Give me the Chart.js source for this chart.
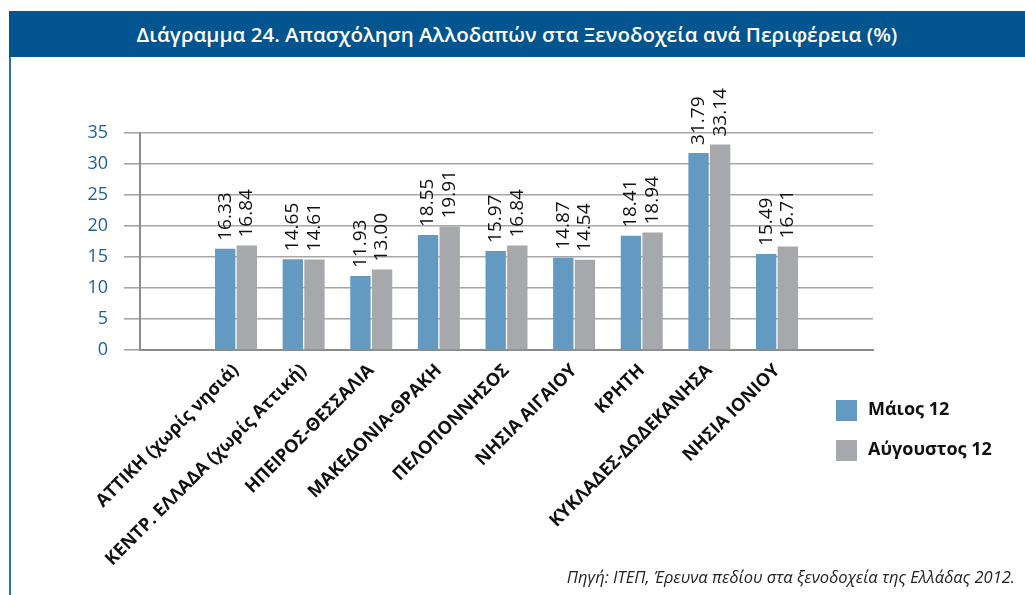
<!DOCTYPE html>
<html>
<head>
<meta charset="utf-8">
<script src="https://cdn.jsdelivr.net/npm/chart.js@4"></script>
<style>
  body { margin: 0; background: #fff; }
  #page { position: relative; width: 1025px; height: 595px; overflow: hidden; }
  #title { position: absolute; left: 9px; top: 11px; width: 1016px; height: 46px; background: #03558f;
    color: #fff; font: 600 20.5px "Open Sans", sans-serif; text-align: center; line-height: 46px; }
  #edge { position: absolute; left: 9px; top: 57px; width: 2px; height: 538px; background: #2f6fb3; }
  #source { position: absolute; right: 10px; top: 565px; font: italic 16.5px "Open Sans", sans-serif; color: #222; }
  #chart-wrapper { position: absolute; left: 0; top: 0; width: 1025px; height: 595px; }
</style>
</head>
<body>
<div id="page">
  <div id="chart-wrapper"><canvas id="myChart" width="1025" height="595"></canvas></div>
  <div id="title">Διάγραμμα 24. Απασχόληση Αλλοδαπών στα Ξενοδοχεία ανά Περιφέρεια (%)</div>
  <div id="edge"></div>
  <div id="source">Πηγή: ΙΤΕΠ, Έρευνα πεδίου στα ξενοδοχεία της Ελλάδας 2012.</div>
</div>
<script>
const regions = [
  "ΑΤΤΙΚΗ (χωρίς νησιά)",
  "ΚΕΝΤΡ. ΕΛΛΑΔΑ (χωρίς Αττική)",
  "ΗΠΕΙΡΟΣ-ΘΕΣΣΑΛΙΑ",
  "ΜΑΚΕΔΟΝΙΑ-ΘΡΑΚΗ",
  "ΠΕΛΟΠΟΝΝΗΣΟΣ",
  "ΝΗΣΙΑ ΑΙΓΑΙΟΥ",
  "ΚΡΗΤΗ",
  "ΚΥΚΛΑΔΕΣ-ΔΩΔΕΚΑΝΗΣΑ",
  "ΝΗΣΙΑ ΙΟΝΙΟΥ"
];
const may12 = [16.33, 14.65, 11.93, 18.55, 15.97, 14.87, 18.41, 31.79, 15.49];
const aug12 = [16.84, 14.61, 13.00, 19.91, 16.84, 14.54, 18.94, 33.14, 16.71];
const yTicks = [0, 5, 10, 15, 20, 25, 30, 35];

const seriesNames = ["Μάιος 12", "Αύγουστος 12"];
const seriesColors = ["#6499c2", "#a7a8ab"];

// values written vertically above each bar
const barValues = {
  id: "barValues",
  afterDatasetsDraw(chart) {
    const ctx = chart.ctx;
    ctx.save();
    ctx.fillStyle = "#111";
    ctx.font = "19px 'Open Sans', sans-serif";
    ctx.textAlign = "left";
    ctx.textBaseline = "middle";
    chart.data.datasets.forEach((ds, i) => {
      chart.getDatasetMeta(i).data.forEach((bar, j) => {
        ctx.save();
        ctx.translate(bar.x, bar.y - 8);
        ctx.rotate(-Math.PI / 2);
        ctx.fillText(ds.data[j].toFixed(2), 0, 0);
        ctx.restore();
      });
    });
    ctx.restore();
  }
};

// legend sits under the plot on the right
const sideLegend = {
  id: "sideLegend",
  afterDraw(chart) {
    const ctx = chart.ctx;
    ctx.save();
    ctx.font = "bold 18px 'Open Sans', sans-serif";
    ctx.textBaseline = "middle";
    chart.data.datasets.forEach((ds, i) => {
      const y = 410 + i * 40;
      ctx.fillStyle = ds.backgroundColor;
      ctx.fillRect(836, y - 10, 21, 21);
      ctx.fillStyle = "#111";
      ctx.fillText(ds.label, 868, y);
    });
    ctx.restore();
  }
};

let ctx = document.getElementById("myChart").getContext("2d");

let chartData = {
  labels: regions,
  datasets: [
    { label: seriesNames[0], data: may12, backgroundColor: seriesColors[0] },
    { label: seriesNames[1], data: aug12, backgroundColor: seriesColors[1] }
  ]
};

let chartOptions = {
  responsive: false,
  animation: false,
  layout: { padding: { top: 133, right: 152, left: 0, bottom: 0 } },
  datasets: { bar: { barPercentage: 0.94, categoryPercentage: 0.64 } },
  plugins: { legend: { display: false }, tooltip: { enabled: false } },
  scales: {
    x: {
      offset: false,
      grid: { display: false, drawTicks: false },
      border: { color: "#8c8c8c", width: 2 },
      ticks: {
        autoSkip: false, minRotation: 45, maxRotation: 45, padding: 10,
        color: "#111", font: { family: "'Open Sans', sans-serif", size: 18, weight: "bold" }
      },
      // the plot keeps empty room left and right of the nine groups
      afterBuildTicks(scale) {
        scale._startValue = -1.42;
        scale._valueRange = regions.length - 1 + 2.84;
      },
      afterFit(scale) { scale.height = 245; }
    },
    y: {
      min: 0, max: 35,
      afterBuildTicks(scale) { scale.ticks = yTicks.map(v => ({ value: v })); },
      grid: { color: "#a6a6a6", lineWidth: 1.6, tickLength: 16, drawTicks: true },
      border: { color: "#8c8c8c", width: 2 },
      ticks: { padding: 16, color: "#1d5e9c", font: { family: "'Open Sans', sans-serif", size: 18 } },
      afterFit(scale) { scale.width = 140; }
    }
  }
};

let chart = new Chart(ctx, {
  type: "bar",
  data: chartData,
  options: chartOptions,
  plugins: [barValues, sideLegend]
});
</script>
</body>
</html>
